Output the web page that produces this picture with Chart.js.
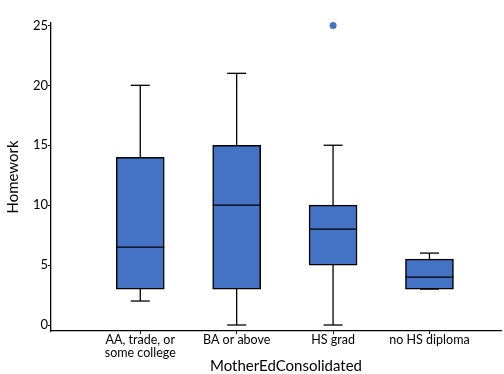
<!DOCTYPE html>
<html>
<head>
<meta charset="utf-8">
<script src="https://cdn.jsdelivr.net/npm/chart.js@4"></script>
<style>
  html, body { margin: 0; padding: 0; background: #fff; }
  #wrap { width: 504px; height: 374px; }
</style>
</head>
<body>
<div id="wrap"><canvas id="myChart" width="504" height="374"></canvas></div>
<script>
// categories on the x axis
var categories = [["AA, trade, or", "some college"], "BA or above", "HS grad", "no HS diploma"];

// five-number summaries
var whiskerLow  = [2, 0, 0, 3];
var q1          = [3, 3, 5, 3];
var medians     = [6.5, 10, 8, 4];
var q3          = [14, 15, 10, 5.5];
var whiskerHigh = [20, 21, 15, 6];

// outliers: [category index, value]
var outliers = [[2, 25]];

var yTicks = [0, 5, 10, 15, 20, 25];

var boxColor = "#4472C4";
var font = "Lato, 'Open Sans', sans-serif";

let boxData = categories.map((c, i) => ({ x: i, y: [q1[i], q3[i]] }));
let medianData = categories.map((c, i) => ({ x: i, y: medians[i] }));
let whiskerData = [];
let capData = [];
categories.forEach((c, i) => {
    // one vertical segment per box, separated by a gap
    whiskerData.push({ x: i, y: whiskerLow[i] });
    whiskerData.push({ x: i, y: whiskerHigh[i] });
    whiskerData.push({ x: i, y: null });
    capData.push({ x: i, y: whiskerLow[i] });
    capData.push({ x: i, y: whiskerHigh[i] });
});
let outlierData = outliers.map(o => ({ x: o[0], y: o[1] }));

// x axis title is drawn a little right of the plot centre, like the original
const xTitlePlugin = {
    id: "xTitle",
    afterDraw: function(chart) {
        const sx = chart.scales.x;
        const ctx = chart.ctx;
        ctx.save();
        ctx.font = "15px " + font;
        ctx.fillStyle = "#000";
        ctx.textAlign = "center";
        ctx.textBaseline = "middle";
        ctx.fillText("MotherEdConsolidated", (sx.left + sx.right) / 2 + 10, sx.bottom - 8);
        ctx.restore();
    }
};

const chartData = {
    datasets: [
        {
            type: "line",
            label: "median",
            data: medianData,
            showLine: false,
            pointStyle: "line",
            pointRadius: 24,
            pointBorderWidth: 1.3,
            pointBorderColor: "#000",
            order: 0
        },
        {
            type: "line",
            label: "caps",
            data: capData,
            showLine: false,
            pointStyle: "line",
            pointRadius: 9.5,
            pointBorderWidth: 1.3,
            pointBorderColor: "#000",
            order: 1
        },
        {
            type: "line",
            label: "outliers",
            data: outlierData,
            showLine: false,
            pointStyle: "circle",
            pointRadius: 3.5,
            pointBackgroundColor: boxColor,
            pointBorderWidth: 0,
            clip: false,
            order: 1
        },
        {
            type: "bar",
            label: "box",
            data: boxData,
            backgroundColor: boxColor,
            borderColor: "#000",
            borderWidth: 1.5,
            borderSkipped: false,
            barThickness: 48,
            grouped: false,
            order: 2
        },
        {
            type: "line",
            label: "whisker",
            data: whiskerData,
            spanGaps: false,
            borderColor: "#000",
            borderWidth: 1.3,
            pointRadius: 0,
            order: 3
        }
    ]
};

const config = {
    type: "bar",
    data: chartData,
    plugins: [xTitlePlugin],
    options: {
        responsive: false,
        animation: false,
        layout: {
            autoPadding: false, // the big "line" points for medians would otherwise add padding
            padding: { top: 23, right: 3, left: 0, bottom: 0 }
        },
        plugins: {
            legend: { display: false },
            tooltip: { enabled: false }
        },
        scales: {
            x: {
                type: "linear",
                min: -0.926,
                max: 3.742,
                offset: false,
                grid: { display: true, drawOnChartArea: false, offset: false, tickLength: 3, color: "#000" },
                border: { display: true, color: "#000", width: 1.3 },
                afterBuildTicks: function(scale) {
                    scale.ticks = categories.map((c, i) => ({ value: i }));
                },
                afterFit: function(scale) {
                    scale.height = 43;
                    scale.paddingLeft = 0;
                    scale.paddingRight = 0;
                },
                ticks: {
                    autoSkip: false,
                    maxRotation: 0,
                    padding: 0,
                    color: "#000",
                    font: { family: font, size: 12.5, lineHeight: 1.0 },
                    callback: function(value) { return categories[value]; }
                },
                title: { display: false }
            },
            y: {
                type: "linear",
                min: -0.5,
                max: 25.2,
                grid: { display: true, drawOnChartArea: false, tickLength: 3, color: "#000" },
                border: { display: true, color: "#000", width: 1.3 },
                afterBuildTicks: function(scale) {
                    scale.ticks = yTicks.map(v => ({ value: v }));
                },
                afterFit: function(scale) {
                    scale.width = 51;
                    scale.paddingTop = 0;
                    scale.paddingBottom = 0;
                },
                ticks: {
                    padding: 0,
                    color: "#000",
                    font: { family: font, size: 13 }
                },
                title: {
                    display: true,
                    text: "Homework",
                    color: "#000",
                    font: { family: font, size: 15 },
                    padding: { top: 4, bottom: 4 }
                }
            }
        }
    }
};

let myChart = new Chart(document.getElementById("myChart"), config);
</script>
</body>
</html>
